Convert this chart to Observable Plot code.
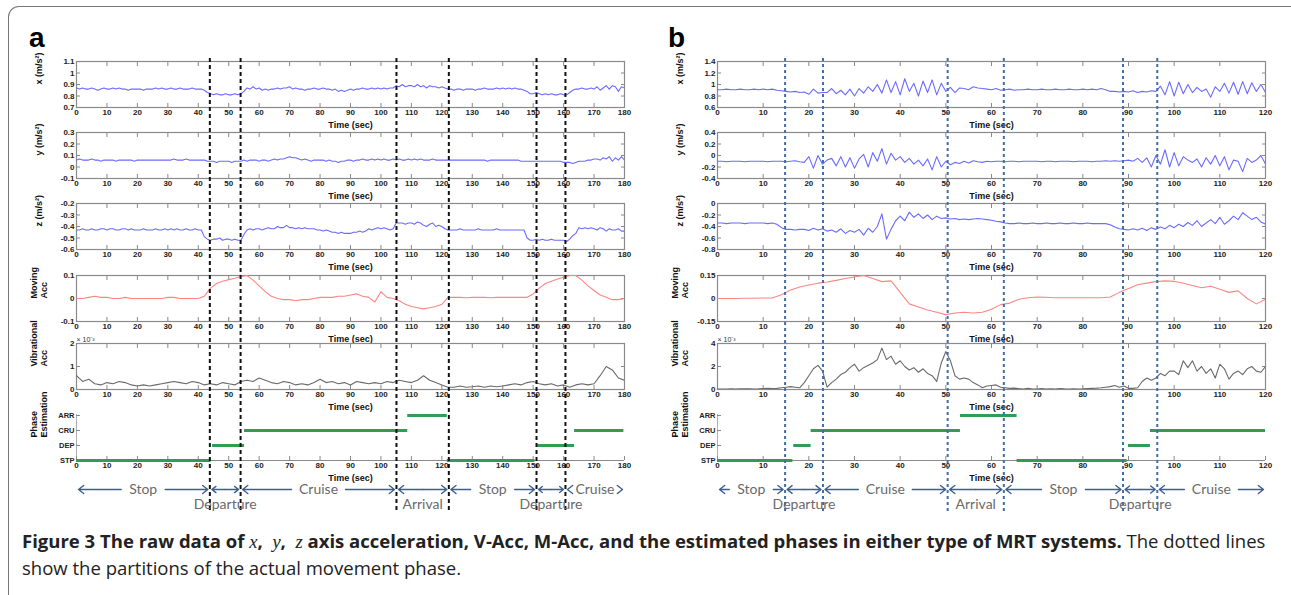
<!DOCTYPE html>
<html><head><meta charset="utf-8">
<script src="https://cdn.jsdelivr.net/npm/d3@7"></script>
<script src="https://cdn.jsdelivr.net/npm/@observablehq/plot@0.6"></script>
<style>
body{margin:0;background:#fff;width:1291px;height:595px;overflow:hidden;position:relative;font-family:"Liberation Sans",Arial,sans-serif}
svg{overflow:visible}
#border{position:absolute;left:8px;top:6px;width:1400px;height:800px;border-top:1.5px solid #777;border-left:1.5px solid #777;border-top-left-radius:11px}
.plab{position:absolute;font:bold 28px/28px "Liberation Sans",Arial,sans-serif;color:#000}
#cap{position:absolute;left:22px;top:528px;color:#222;font-family:"Open Sans",sans-serif;white-space:nowrap;line-height:26px}
#cap b{font-weight:700}
#cap i{font-family:"Liberation Serif",serif;font-style:italic;font-weight:normal}
</style></head><body>
<div id="border"></div>
<div class="plab" style="left:29px;top:24px">a</div>
<div class="plab" style="left:668px;top:24px">b</div>
<div id="cap"><div id="cap1"><b>Figure 3 The raw data of <i>x</i>,&nbsp; <i>y</i>,&nbsp; <i>z</i> axis acceleration, V-Acc, M-Acc, and the estimated phases in either type of MRT systems.</b> The dotted lines</div><div>show the partitions of the actual movement phase.</div></div>
<script>
// ---------------- DATA ----------------
// Panel a (180 s), 1-s samples
const aX = [0.87,0.86,0.87,0.86,0.86,0.87,0.86,0.85,0.86,0.87,
0.86,0.86,0.87,0.86,0.87,0.86,0.86,0.85,0.86,0.86,
0.86,0.86,0.85,0.86,0.86,0.86,0.87,0.86,0.87,0.86,
0.86,0.87,0.86,0.86,0.87,0.86,0.86,0.86,0.87,0.86,
0.86,0.86,0.85,0.83,0.82,0.81,0.82,0.81,0.81,0.82,
0.81,0.81,0.82,0.81,0.82,0.84,0.87,0.86,0.88,0.86,
0.87,0.85,0.86,0.85,0.86,0.86,0.87,0.86,0.87,0.87,
0.88,0.86,0.87,0.86,0.86,0.85,0.86,0.86,0.87,0.86,
0.86,0.87,0.86,0.86,0.85,0.86,0.84,0.85,0.84,0.85,
0.86,0.85,0.86,0.86,0.87,0.86,0.86,0.87,0.86,0.87,
0.86,0.87,0.86,0.87,0.87,0.89,0.88,0.90,0.88,0.89,
0.89,0.88,0.90,0.88,0.89,0.87,0.89,0.88,0.88,0.87,
0.88,0.87,0.86,0.86,0.85,0.86,0.86,0.85,0.86,0.86,
0.86,0.85,0.86,0.86,0.87,0.86,0.86,0.86,0.87,0.86,
0.87,0.86,0.87,0.86,0.87,0.86,0.86,0.85,0.84,0.82,
0.82,0.83,0.82,0.81,0.82,0.81,0.82,0.81,0.81,0.82,
0.81,0.81,0.83,0.85,0.86,0.86,0.87,0.86,0.86,0.87,
0.86,0.88,0.85,0.87,0.89,0.86,0.89,0.88,0.84,0.88,
0.87];
const aY = [0.06,0.07,0.06,0.06,0.06,0.07,0.06,0.06,0.05,0.06,
0.06,0.06,0.06,0.05,0.06,0.06,0.06,0.06,0.06,0.05,
0.06,0.06,0.06,0.06,0.06,0.06,0.06,0.06,0.06,0.06,
0.06,0.06,0.07,0.06,0.06,0.06,0.07,0.06,0.06,0.06,
0.06,0.06,0.06,0.05,0.05,0.05,0.04,0.05,0.05,0.05,
0.05,0.04,0.05,0.05,0.05,0.06,0.05,0.06,0.06,0.06,
0.05,0.06,0.06,0.05,0.06,0.07,0.06,0.07,0.07,0.08,
0.09,0.08,0.08,0.07,0.06,0.07,0.06,0.05,0.06,0.06,
0.06,0.06,0.05,0.06,0.05,0.05,0.04,0.05,0.05,0.06,
0.06,0.05,0.06,0.06,0.07,0.06,0.06,0.07,0.06,0.07,
0.06,0.07,0.06,0.06,0.07,0.06,0.07,0.06,0.06,0.07,
0.06,0.07,0.06,0.07,0.06,0.06,0.06,0.07,0.06,0.06,
0.06,0.06,0.06,0.06,0.06,0.06,0.06,0.06,0.06,0.06,
0.06,0.06,0.06,0.06,0.06,0.05,0.06,0.06,0.06,0.06,
0.06,0.06,0.06,0.06,0.06,0.06,0.05,0.05,0.05,0.05,
0.05,0.05,0.05,0.05,0.05,0.05,0.05,0.05,0.05,0.05,
0.04,0.04,0.04,0.03,0.04,0.05,0.05,0.05,0.06,0.06,
0.07,0.07,0.06,0.08,0.07,0.09,0.05,0.08,0.06,0.09,
0.06];
const aZ = [-0.43,-0.43,-0.42,-0.43,-0.43,-0.42,-0.43,-0.43,-0.42,-0.42,
-0.43,-0.42,-0.42,-0.43,-0.43,-0.42,-0.42,-0.43,-0.42,-0.43,
-0.43,-0.43,-0.42,-0.43,-0.43,-0.43,-0.42,-0.43,-0.43,-0.42,
-0.43,-0.42,-0.43,-0.42,-0.43,-0.43,-0.42,-0.43,-0.43,-0.42,
-0.43,-0.43,-0.49,-0.51,-0.52,-0.51,-0.51,-0.50,-0.52,-0.51,
-0.51,-0.52,-0.51,-0.52,-0.52,-0.47,-0.43,-0.42,-0.43,-0.42,
-0.42,-0.43,-0.42,-0.41,-0.42,-0.42,-0.40,-0.41,-0.41,-0.39,
-0.41,-0.41,-0.42,-0.41,-0.42,-0.41,-0.42,-0.42,-0.42,-0.43,
-0.43,-0.44,-0.43,-0.44,-0.45,-0.45,-0.46,-0.45,-0.46,-0.46,
-0.46,-0.45,-0.45,-0.44,-0.45,-0.44,-0.42,-0.43,-0.42,-0.41,
-0.42,-0.41,-0.42,-0.43,-0.42,-0.37,-0.37,-0.37,-0.38,-0.37,
-0.37,-0.38,-0.36,-0.37,-0.39,-0.40,-0.38,-0.37,-0.40,-0.39,
-0.40,-0.42,-0.43,-0.43,-0.43,-0.43,-0.42,-0.43,-0.43,-0.43,
-0.43,-0.43,-0.42,-0.43,-0.43,-0.43,-0.43,-0.43,-0.42,-0.43,
-0.43,-0.43,-0.43,-0.43,-0.43,-0.43,-0.43,-0.43,-0.50,-0.52,
-0.52,-0.51,-0.52,-0.51,-0.52,-0.52,-0.51,-0.52,-0.52,-0.52,
-0.52,-0.53,-0.51,-0.48,-0.46,-0.41,-0.42,-0.41,-0.42,-0.41,
-0.42,-0.43,-0.41,-0.42,-0.44,-0.42,-0.43,-0.43,-0.42,-0.44,
-0.44];
// Panel a, 2-s samples
const aMov = [0,0,0.005,0.01,0.005,0.005,0,0,0.005,0,0,0,0,0,0,0.005,0.005,0,0,0,0,
0.01,0.045,0.065,0.075,0.082,0.088,0.095,0.1,0.08,0.055,0.03,0.01,0,-0.005,-0.005,-0.01,-0.005,-0.005,0,0.005,
0.005,0.005,0.01,0.01,0.015,0.02,0.01,0.005,-0.015,0.03,0.005,0,-0.01,-0.025,-0.035,-0.04,-0.045,-0.04,-0.035,-0.025,
0.005,0.005,0.005,0.003,0.005,0.005,0.005,0.003,0.005,0.005,0.005,0.005,0.005,0.005,
0.02,0.045,0.065,0.075,0.085,0.092,0.1,0.1,0.08,0.055,0.035,0.015,0.005,-0.005,-0.005,0];
const aVib = [0.6,0.35,0.45,0.25,0.2,0.3,0.25,0.35,0.3,0.2,
0.15,0.2,0.15,0.2,0.25,0.3,0.35,0.3,0.25,0.35,
0.3,0.2,0.25,0.2,0.3,0.25,0.2,0.35,0.4,0.35,
0.5,0.4,0.3,0.25,0.35,0.3,0.2,0.25,0.2,0.3,
0.45,0.3,0.35,0.25,0.3,0.2,0.35,0.3,0.25,0.3,
0.25,0.35,0.3,0.4,0.35,0.3,0.4,0.6,0.4,0.3,
0.2,0.1,0.1,0.15,0.1,0.12,0.15,0.1,0.15,0.12,
0.15,0.2,0.25,0.2,0.3,0.35,0.25,0.2,0.25,0.15,
0.2,0.1,0.2,0.25,0.2,0.25,0.6,1.0,0.85,0.5,
0.4];
// Panel b (120 s), 1-s samples
const bX = [0.91,0.91,0.92,0.91,0.91,0.92,0.91,0.91,0.92,0.91,
0.92,0.91,0.92,0.90,0.89,0.88,0.87,0.88,0.86,0.87,
0.83,0.92,0.85,0.86,0.86,0.93,0.84,0.90,0.82,0.92,
0.80,0.93,0.85,0.96,0.88,1.00,0.85,1.08,0.86,1.05,
0.82,1.10,0.88,1.02,0.80,1.06,0.86,1.08,0.82,1.02,
0.88,0.95,0.86,0.94,0.93,0.91,0.96,0.94,0.93,0.92,
0.91,0.93,0.90,0.91,0.92,0.90,0.91,0.91,0.92,0.91,
0.91,0.92,0.91,0.91,0.92,0.91,0.91,0.92,0.91,0.91,
0.92,0.91,0.92,0.91,0.93,0.91,0.88,0.88,0.87,0.88,
0.87,0.89,0.86,0.88,0.87,0.89,0.88,0.97,0.82,1.05,
0.80,1.04,0.84,1.00,0.86,0.95,0.88,0.92,0.78,0.96,
0.88,1.02,0.85,1.04,0.83,1.05,0.84,1.03,0.88,1.00,
0.86];
const bY = [-0.10,-0.10,-0.11,-0.10,-0.10,-0.10,-0.11,-0.10,-0.10,-0.10,
-0.10,-0.11,-0.10,-0.10,-0.10,-0.11,-0.10,-0.09,-0.11,-0.12,
-0.02,-0.22,0.00,-0.15,-0.08,-0.05,-0.18,-0.02,-0.20,-0.04,
-0.22,-0.06,0.02,-0.20,0.05,-0.10,0.12,-0.15,0.04,-0.08,
-0.02,-0.12,-0.05,-0.15,-0.08,-0.18,-0.06,-0.25,-0.02,-0.20,
-0.10,-0.16,-0.12,-0.14,-0.10,-0.13,-0.09,-0.11,-0.12,-0.10,
-0.11,-0.10,-0.10,-0.11,-0.10,-0.10,-0.11,-0.10,-0.10,-0.10,
-0.10,-0.11,-0.10,-0.10,-0.11,-0.10,-0.10,-0.10,-0.11,-0.10,
-0.10,-0.10,-0.11,-0.10,-0.10,-0.09,-0.10,-0.09,-0.10,-0.09,
-0.08,-0.10,-0.05,-0.12,-0.04,-0.20,0.00,-0.15,0.10,-0.20,
0.05,-0.18,-0.02,-0.08,-0.12,-0.06,-0.20,-0.04,-0.15,0.00,
-0.18,-0.02,-0.25,-0.08,-0.10,-0.28,-0.05,-0.12,-0.08,0.00,
-0.15];
const bZ = [-0.34,-0.34,-0.35,-0.34,-0.34,-0.34,-0.35,-0.34,-0.34,-0.34,
-0.34,-0.35,-0.34,-0.36,-0.42,-0.45,-0.45,-0.46,-0.45,-0.45,
-0.47,-0.43,-0.46,-0.44,-0.48,-0.46,-0.50,-0.44,-0.52,-0.47,
-0.50,-0.45,-0.55,-0.43,-0.50,-0.40,-0.18,-0.62,-0.45,-0.30,
-0.22,-0.30,-0.15,-0.24,-0.18,-0.26,-0.20,-0.28,-0.22,-0.26,
-0.25,-0.27,-0.26,-0.28,-0.27,-0.28,-0.27,-0.26,-0.27,-0.28,
-0.29,-0.31,-0.32,-0.34,-0.35,-0.35,-0.34,-0.35,-0.35,-0.34,
-0.35,-0.35,-0.34,-0.35,-0.35,-0.34,-0.35,-0.35,-0.34,-0.35,
-0.35,-0.34,-0.35,-0.35,-0.35,-0.35,-0.37,-0.41,-0.44,-0.45,
-0.46,-0.44,-0.46,-0.43,-0.47,-0.42,-0.45,-0.41,-0.44,-0.38,
-0.42,-0.36,-0.40,-0.33,-0.38,-0.30,-0.40,-0.34,-0.28,-0.35,
-0.24,-0.36,-0.30,-0.22,-0.28,-0.16,-0.22,-0.28,-0.24,-0.32,
-0.36];
const bVib = [0.05,0.05,0.05,0.06,0.05,0.06,0.07,0.06,0.05,0.06,
0.08,0.1,0.08,0.1,0.15,0.2,0.25,0.2,0.15,0.6,
1.2,1.8,2.1,1.6,0.2,0.6,0.9,1.3,1.5,1.9,
2.2,1.6,1.9,2.1,2.3,2.6,3.6,2.6,2.9,2.2,
2.5,2.0,1.7,1.9,1.5,1.8,1.4,1.2,0.7,2.3,
3.3,2.5,1.2,0.9,1.0,0.9,0.6,0.4,0.15,0.3,
0.35,0.4,0.2,0.15,0.1,0.12,0.08,0.05,0.1,0.05,
0.05,0.08,0.05,0.06,0.05,0.08,0.06,0.05,0.07,0.05,
0.06,0.08,0.1,0.12,0.15,0.2,0.25,0.35,0.2,0.3,
0.1,0.1,0.15,0.7,1.0,0.8,1.0,1.4,1.2,1.6,
1.6,1.3,2.5,1.9,2.5,1.6,2.0,1.4,1.8,1.0,
2.2,1.8,0.9,1.4,1.6,1.3,1.8,2.0,1.6,1.5,
2.0];
// Panel b, 2-s samples
const bMov = [0,0,0,0.002,0.002,0.003,0.003,
0.025,0.055,0.075,0.088,0.1,0.108,0.118,0.13,0.14,0.15,0.13,0.11,0.115,
0.04,-0.035,-0.055,-0.075,-0.09,-0.105,-0.095,-0.09,-0.095,-0.09,-0.07,-0.04,-0.03,-0.005,
0.005,0.01,0.008,0.005,0.005,0.005,0.005,0.005,0.005,0.01,
0.04,0.065,0.09,0.1,0.11,0.115,0.112,0.1,0.085,0.07,0.08,0.06,0.04,0.05,0.0,-0.035,-0.005];

// Estimated phases (green bars)
const phaseLevels = ["ARR","CRU","DEP","STP"];
const aPhaseName  = ["STP","DEP","CRU","ARR","STP","DEP","CRU"];
const aPhaseStart = [0,44.7,55.2,108.8,121.8,151.5,163.6];
const aPhaseEnd   = [44.2,55.2,108.8,121.8,150.6,163.6,179.8];
const bPhaseName  = ["STP","DEP","CRU","ARR","STP","DEP","CRU"];
const bPhaseStart = [0,16.7,20.5,53.2,65.6,90,94.8];
const bPhaseEnd   = [16.5,20.5,53.2,65.6,89.7,94.8,120];

// Actual phase partitions (dotted lines) and their names
const actualNames = ["Stop","Departure","Cruise","Arrival","Stop","Departure","Cruise"];
const aBounds = [43.8,53.9,105.1,122.3,151.1,160.6];
const bBounds = [14.8,23.1,50.4,62.7,88.8,96.3];

// Tick labels
const aXTicks = [0,10,20,30,40,50,60,70,80,90,100,110,120,130,140,150,160,170,180];
const bXTicks = [0,10,20,30,40,50,60,70,80,90,100,110,120];
const aYTicks = {x:[0.7,0.8,0.9,1,1.1], y:[-0.1,0,0.1,0.2,0.3], z:[-0.6,-0.5,-0.4,-0.3,-0.2], mov:[-0.1,0,0.1], vib:[0,1,2]};
const bYTicks = {x:[0.6,0.8,1,1.2,1.4], y:[-0.4,-0.2,0,0.2,0.4], z:[-0.8,-0.6,-0.4,-0.2,0], mov:[-0.15,0,0.15], vib:[0,2,4]};

// ---------------- DRAWING ----------------
const aT1 = d3.range(0,181), aT2 = d3.range(0,181,2);
const bT1 = d3.range(0,121), bT2 = d3.range(0,121,2);
const ser = (t,v) => t.map((tt,i)=>({t:tt, v:v[i]}));
const fmt = d => String(+(+d).toFixed(3));
const GRAY = "#8a8a8a";
const FONT = '"Liberation Sans", Arial, sans-serif';
const MT = 14, MB = 34, FH = 46;
const tops = [61, 132, 203, 275, 343, 414];

function place(el, left, top){
  el.style.position = "absolute"; el.style.left = left+"px"; el.style.top = top+"px";
  document.body.appendChild(el);
}
const style = {fontFamily: FONT, fontSize: "8px", fontWeight: "bold", color: "#222", background: "transparent", overflow: "visible"};

function commonX(p){
  return [
    Plot.axisX({ticks:p.xticks, tickSize:-4, tickPadding:6, tickFormat:fmt, stroke:GRAY, fill:"#222", label:null}),
    Plot.text(["Time (sec)"], {frameAnchor:"bottom", dy:20, text:d=>d, fontSize:9, fontWeight:"bold", fill:"#111"})
  ];
}
function ylab(label){
  return Plot.text([label], {frameAnchor:"left", dx:-38, rotate:-90, text:d=>d, fontSize:9, fontWeight:"bold", fill:"#111", lineHeight:1.2});
}

function signal(p, top, ydom, yticks, data, stroke, label, note){
  const marks = [
    Plot.frame({stroke:GRAY, strokeWidth:1.2}),
    ...commonX(p),
    Plot.axisX({anchor:"top", ticks:p.xticks, tickSize:-4, tickFormat:()=>"", stroke:GRAY, label:null}),
    Plot.axisY({ticks:yticks, tickSize:-4, tickPadding:6, tickFormat:fmt, stroke:GRAY, fill:"#222", label:null}),
    Plot.axisY({anchor:"right", ticks:yticks, tickSize:-4, tickFormat:()=>"", stroke:GRAY, label:null}),
    Plot.line(data, {x:"t", y:"v", stroke, strokeWidth:1.1, clip:true}),
    ylab(label)
  ];
  if (note) marks.push(Plot.text([note], {frameAnchor:"top-left", dy:-6, textAnchor:"start", text:d=>d, fontSize:7, fontWeight:"normal", fill:"#333"}));
  const svg = Plot.plot({width:p.W, height:FH+MT+MB, marginLeft:p.ml, marginRight:p.mr, marginTop:MT, marginBottom:MB,
    x:{domain:p.xdom}, y:{domain:ydom}, style, marks});
  place(svg, p.left, top-MT);
}

function phase(p, top, names, starts, ends){
  const segs = names.map((n,i)=>({p:n, s:starts[i], e:ends[i]}));
  const svg = Plot.plot({width:p.W, height:FH+MT+MB, marginLeft:p.ml, marginRight:p.mr, marginTop:MT, marginBottom:MB,
    x:{domain:p.xdom}, y:{type:"point", domain:phaseLevels, padding:0}, style,
    marks:[
      Plot.ruleY(["STP"], {stroke:GRAY, strokeWidth:1.2}),
      Plot.ruleX([p.xdom[0]], {stroke:"#b0b0b0", strokeWidth:1}),
      ...commonX(p),
      Plot.axisY({tickSize:-4, tickPadding:6, stroke:GRAY, fill:"#222", label:null, fontSize:7.5}),
      Plot.ruleY(segs, {y:"p", x1:"s", x2:"e", stroke:"#2f9e52", strokeWidth:3}),
      ylab("Phase\nEstimation")
    ]});
  place(svg, p.left, top-MT);
}

function overlay(p, bounds, dashStroke, dashArray){
  const ROW = 489;
  const edges = [p.xdom[0], ...bounds, p.xdom[1]];
  const segs = actualNames.map((name,i)=>({name, s:edges[i], e:edges[i+1], m:(edges[i]+edges[i+1])/2}));
  const inside = n => n === "Stop" || n === "Cruise";
  const halves = segs.flatMap(d=>[{...d, to:d.s}, {...d, to:d.e}]);
  const arrowOpts = gap => ({x1:"m", x2:"to", y1:ROW, y2:ROW, stroke:"#3d5e90", strokeWidth:1.4, headLength:7, headAngle:75, insetStart:gap, insetEnd:2});
  const txt = {fontFamily:"Lato, sans-serif", fontSize:14, fontWeight:"normal", fill:"#6a6a6a"};
  const svg = Plot.plot({width:p.W, height:520, marginLeft:p.ml, marginRight:p.mr, marginTop:0, marginBottom:0,
    x:{domain:p.xdom, axis:null}, y:{domain:[0,520], range:[0,520], axis:null}, style,
    marks:[
      Plot.ruleX(bounds, {x:d=>d, y1:58, y2:512, stroke:dashStroke, strokeWidth:2, strokeDasharray:dashArray}),
      Plot.arrow(halves.filter(d=>!inside(d.name)), arrowOpts(0)),
      Plot.arrow(halves.filter(d=>d.name==="Stop"), arrowOpts(22)),
      Plot.arrow(halves.filter(d=>d.name==="Cruise"), arrowOpts(27)),
      Plot.text(segs.filter(d=>inside(d.name)), {x:"m", y:ROW, text:"name", ...txt}),
      Plot.text(segs.filter(d=>!inside(d.name)), {x:"m", y:ROW+15, text:"name", ...txt})
    ]});
  place(svg, p.left, 0);
}

const PA = {left:0, W:640, ml:76, mr:16, xdom:[0,180], xticks:aXTicks};
const PB = {left:645, W:640, ml:72, mr:20, xdom:[0,120], xticks:bXTicks};
const BLUE = "#6b6bff", RED = "#ff8585", DGRAY = "#6a6a6a";

signal(PA, tops[0], [0.7,1.1], aYTicks.x, ser(aT1,aX), BLUE, "x (m/s²)");
signal(PA, tops[1], [-0.1,0.3], aYTicks.y, ser(aT1,aY), BLUE, "y (m/s²)");
signal(PA, tops[2], [-0.6,-0.2], aYTicks.z, ser(aT1,aZ), BLUE, "z (m/s²)");
signal(PA, tops[3], [-0.1,0.1], aYTicks.mov, ser(aT2,aMov), RED, "Moving\nAcc");
signal(PA, tops[4], [0,2], aYTicks.vib, ser(aT2,aVib), DGRAY, "Vibrational\nAcc", "× 10⁻³");
phase(PA, tops[5], aPhaseName, aPhaseStart, aPhaseEnd);

signal(PB, tops[0], [0.6,1.4], bYTicks.x, ser(bT1,bX), BLUE, "x (m/s²)");
signal(PB, tops[1], [-0.4,0.4], bYTicks.y, ser(bT1,bY), BLUE, "y (m/s²)");
signal(PB, tops[2], [-0.8,0], bYTicks.z, ser(bT1,bZ), BLUE, "z (m/s²)");
signal(PB, tops[3], [-0.15,0.15], bYTicks.mov, ser(bT2,bMov), RED, "Moving\nAcc");
signal(PB, tops[4], [0,4], bYTicks.vib, ser(bT1,bVib), DGRAY, "Vibrational\nAcc", "× 10⁻³");
phase(PB, tops[5], bPhaseName, bPhaseStart, bPhaseEnd);

overlay(PA, aBounds, "#111", "4,3");
overlay(PB, bBounds, "#3f6fa8", "3,3");

// fit caption line width to the reference
const cap = document.getElementById("cap"), cap1 = document.getElementById("cap1");
cap.style.fontSize = "16px";
const w = cap1.getBoundingClientRect().width;
cap.style.fontSize = (16 * 1245 / w) + "px";
</script>
</body></html>
